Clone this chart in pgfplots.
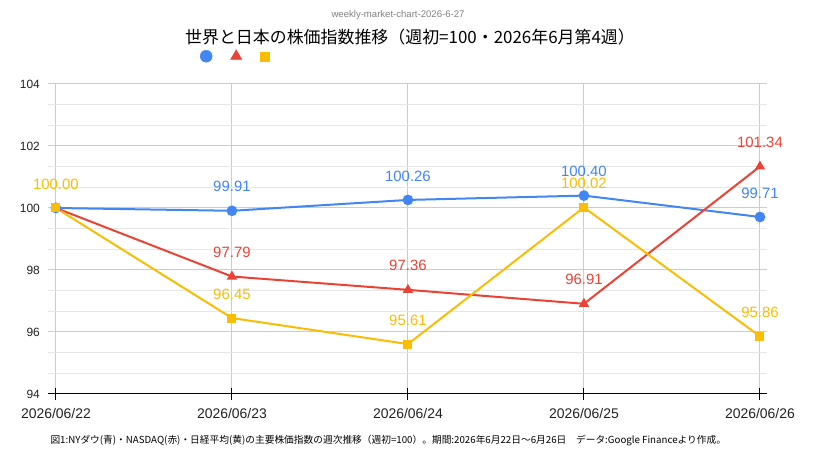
\documentclass[border=0pt]{standalone}
\usepackage{fontspec}
\setmainfont{Liberation Sans}
\newfontfamily\cjk{Noto Sans CJK JP}
\usepackage{pgfplots}
\pgfplotsset{compat=1.18}
\definecolor{gblue}{HTML}{4285F4}
\definecolor{gred}{HTML}{EA4335}
\definecolor{gyellow}{HTML}{FBBC04}
\definecolor{majgrid}{HTML}{CCCCCC}
\definecolor{mingrid}{HTML}{E6E6E6}
\definecolor{lbl}{HTML}{222222}
\begin{document}
\begin{tikzpicture}
\useasboundingbox (0bp,0bp) rectangle (822bp,468bp);
\node[font=\fontsize{9.6}{10}\selectfont, text=gray] at (398bp,453bp) {weekly-market-chart-2026-6-27};
\node[font=\cjk\fontsize{17}{18}\selectfont, text=black] at (410bp,431bp) {世界と日本の株価指数推移（週初=100・2026年6月第4週）};
\node[font=\cjk\fontsize{9.75}{10}\selectfont, text=black, anchor=west] at (47bp,27bp) {図1:NYダウ(青)・NASDAQ(赤)・日経平均(黄)の主要株価指数の週次推移（週初=100）。期間:2026年6月22日～6月26日　データ:Google Financeより作成。};
\begin{axis}[
  at={(48bp,74bp)}, anchor=south west, scale only axis,
  width=719bp, height=310bp,
  xmin=-0.045, xmax=4.04, ymin=94, ymax=104,
  axis x line*=bottom, axis y line*=left,
  x axis line style={black, line width=1bp},
  y axis line style={draw=none},
  xtick={0,1,2,3,4},
  xticklabels={2026/06/22,2026/06/23,2026/06/24,2026/06/25,2026/06/26},
  ytick={94,96,98,100,102,104},
  /pgf/number format/assume math mode=true,
  minor y tick num=2,
  tick align=center, major tick length=12bp, minor tick length=0pt,
  xtick style={black, line width=1bp},
  ytick style={draw=none},
  xmajorgrids, ymajorgrids, yminorgrids,
  major grid style={majgrid, line width=1bp},
  minor grid style={mingrid, line width=1bp},
  xticklabel style={font=\fontsize{14}{14}\selectfont, text=lbl, inner sep=0pt, yshift=-8bp},
  yticklabel style={font=\fontsize{12}{12}\selectfont, text=lbl, inner sep=0pt, xshift=-2bp},
  clip=false,
  legend image code/.code={\draw[#1] plot coordinates {(0bp,0bp)};},
  legend style={draw=none, fill=none, inner sep=0pt, legend columns=3,
    nodes={inner sep=0pt}, column sep=8.7bp,
    at={(axis description cs:0.2114,1.0903)}, anchor=west},
  every node near coord/.append style={anchor=center, yshift=24bp, font=\fontsize{15}{15}\selectfont},
]
\addlegendimage{gblue, mark=*, mark size=6bp}
\addlegendentry{}
\addlegendimage{gred, mark=triangle*, mark size=6.5bp}
\addlegendentry{}
\addlegendimage{gyellow, mark=square*, mark size=4.5bp}
\addlegendentry{}

\addplot[forget plot, gblue, line width=2bp, mark=*, mark size=4.3bp,
  nodes near coords, point meta=explicit symbolic,
  every node near coord/.append style={text=gblue}]
  coordinates {(0,100.00)[] (1,99.91)[99.91] (2,100.26)[100.26] (3,100.40)[100.40] (4,99.71)[99.71]};
\addplot[forget plot, gred, line width=2bp, mark=triangle*, mark size=4bp,
  nodes near coords, point meta=explicit symbolic,
  every node near coord/.append style={text=gred}]
  coordinates {(0,100.00)[] (1,97.79)[97.79] (2,97.36)[97.36] (3,96.91)[96.91] (4,101.34)[101.34]};
\addplot[forget plot, gyellow, line width=2bp, mark=square*, mark size=3.5bp,
  nodes near coords, point meta=explicit symbolic,
  every node near coord/.append style={text=gyellow}]
  coordinates {(0,100.00)[100.00] (1,96.45)[96.45] (2,95.61)[95.61] (3,100.02)[100.02] (4,95.86)[95.86]};
\end{axis}
\end{tikzpicture}
\end{document}
